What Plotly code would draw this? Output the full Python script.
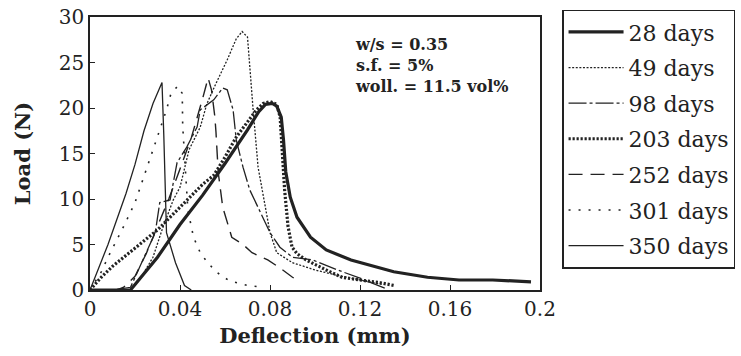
import plotly.graph_objects as go

# Load-deflection curves of wollastonite micro-fibre reinforced specimens at several ages
days_labels = ["28 days", "49 days", "98 days", "203 days", "252 days", "301 days", "350 days"]

defl_28 = [0, 0.018, 0.030, 0.040, 0.050, 0.060, 0.070, 0.075, 0.078, 0.081, 0.083, 0.085, 0.086,
           0.087, 0.089, 0.092, 0.098, 0.105, 0.116, 0.129, 0.135, 0.150, 0.164, 0.179, 0.196]
load_28 = [0, 0, 3.6, 7.2, 10.4, 13.9, 17.6, 19.6, 20.4, 20.5, 20.2, 19.0, 16.5,
           13.0, 10.2, 8.0, 5.8, 4.4, 3.3, 2.4, 2.0, 1.4, 1.1, 1.1, 0.9]

defl_49 = [0, 0.018, 0.022, 0.028, 0.032, 0.037, 0.040, 0.044, 0.049, 0.052, 0.056, 0.061, 0.065,
           0.0676, 0.070, 0.071, 0.0725, 0.0747, 0.078, 0.080, 0.083, 0.090, 0.100, 0.110, 0.120, 0.130]
load_49 = [0, 0, 1.1, 3.6, 6.6, 9.9, 11.3, 15.4, 17.9, 20.5, 22.7, 25.3, 27.6,
           28.4, 27.8, 24.5, 19.8, 13.5, 9.1, 6.3, 4.1, 3.0, 2.2, 1.6, 1.1, 0.6]

defl_98 = [0, 0.010, 0.018, 0.021, 0.025, 0.029, 0.031, 0.0356, 0.0387, 0.043, 0.0476, 0.049, 0.055,
           0.059, 0.061, 0.0636, 0.065, 0.068, 0.071, 0.0756, 0.080, 0.0844, 0.090, 0.099, 0.110,
           0.120, 0.128, 0.131]
load_98 = [0, 0, 0.3, 1.9, 4.1, 6.3, 9.6, 9.9, 14.0, 15.7, 17.9, 19.8, 20.9,
           22.2, 22.0, 19.8, 16.5, 13.5, 11.0, 8.5, 6.3, 4.7, 3.6, 3.3, 2.2,
           1.3, 0.5, 0.2]

defl_203 = [0, 0.005, 0.010, 0.020, 0.030, 0.040, 0.050, 0.055, 0.060, 0.065, 0.070, 0.074, 0.077,
            0.080, 0.083, 0.0845, 0.0855, 0.0865, 0.088, 0.0898, 0.092, 0.096, 0.105, 0.112, 0.120,
            0.129, 0.135]
load_203 = [0, 1.4, 2.6, 4.6, 6.6, 9.1, 11.6, 12.6, 14.6, 16.8, 18.5, 19.8, 20.5,
            20.7, 20.4, 19.0, 15.0, 11.0, 7.0, 4.7, 4.0, 3.3, 2.2, 1.4, 1.1,
            0.8, 0.5]

defl_252 = [0, 0.012, 0.015, 0.020, 0.025, 0.030, 0.035, 0.040, 0.045, 0.050, 0.0525, 0.054,
            0.0555, 0.056, 0.057, 0.059, 0.063, 0.068, 0.072, 0.079, 0.084, 0.090, 0.092]
load_252 = [0, 0, 0.3, 1.5, 4.0, 6.9, 10.0, 13.3, 16.7, 21.0, 23.3, 22.0,
            19.0, 17.3, 12.9, 9.1, 5.8, 5.0, 4.1, 3.3, 2.5, 1.4, 1.1]

defl_301 = [0, 0.005, 0.009, 0.015, 0.020, 0.024, 0.028, 0.034, 0.036, 0.039, 0.041, 0.0412,
            0.042, 0.0435, 0.046, 0.049, 0.052, 0.056, 0.062, 0.070, 0.077]
load_301 = [0, 2.0, 4.1, 7.0, 9.6, 12.4, 15.4, 19.8, 21.6, 22.4, 21.6, 18.0,
            14.6, 8.8, 5.8, 4.1, 3.1, 2.0, 1.0, 0.5, 0.3]

defl_350 = [0, 0.004, 0.008, 0.012, 0.016, 0.020, 0.024, 0.028, 0.032, 0.0328, 0.0335, 0.034,
            0.038, 0.042, 0.045]
load_350 = [0, 2.5, 5.0, 7.8, 10.6, 13.8, 17.5, 20.5, 22.8, 17.0, 10.0, 6.3,
            3.0, 0.5, 0.0]

x_tick_vals = [0, 0.04, 0.08, 0.12, 0.16, 0.2]
x_tick_text = ["0", "0.04", "0.08", "0.12", "0.16", "0.2"]
y_tick_vals = [0, 5, 10, 15, 20, 25, 30]

mix_notes = ["w/s = 0.35", "s.f. = 5%", "woll. = 11.5 vol%"]

series = [
    (defl_28, load_28, dict(width=3.2, dash="solid")),
    (defl_49, load_49, dict(width=1.3, dash="2px,1.6px")),
    (defl_98, load_98, dict(width=1.3, dash="18px,3px,3px,3px")),
    (defl_203, load_203, dict(width=3.2, dash="2.2px,1.8px")),
    (defl_252, load_252, dict(width=1.4, dash="14px,8px")),
    (defl_301, load_301, dict(width=1.6, dash="2px,8px")),
    (defl_350, load_350, dict(width=1.3, dash="solid")),
]

ink = "#222222"
serif = "DejaVu Serif"

fig = go.Figure()
for label, (xs, ys, style) in zip(days_labels, series):
    fig.add_trace(go.Scatter(
        x=xs, y=ys, mode="lines", name=label, legendgroup=label,
        line=dict(color=ink, width=style["width"], dash=style["dash"]),
    ))

# mix design notes in the upper right of the plot
fig.add_annotation(
    x=0.117, y=28.2, xref="x", yref="y", xanchor="left", yanchor="top", align="left",
    showarrow=False, text="<br>".join(mix_notes),
    font=dict(family=serif, size=16, color=ink, weight="bold"),
)

axis_common = dict(
    showline=True, linecolor=ink, linewidth=1.5, mirror=True,
    ticks="inside", ticklen=5, tickwidth=1.3, tickcolor=ink,
    showgrid=False, zeroline=False,
    tickfont=dict(family=serif, size=20, color=ink),
)

fig.update_xaxes(
    range=[0, 0.2], tickvals=x_tick_vals, ticktext=x_tick_text,
    title=dict(text="Deflection (mm)", font=dict(family=serif, size=21, color=ink, weight="bold"),
               standoff=9),
    **axis_common,
)
fig.update_yaxes(
    range=[0, 30], tickvals=y_tick_vals,
    title=dict(text="Load (N)", font=dict(family=serif, size=21, color=ink, weight="bold"),
               standoff=22),
    **axis_common,
)

fig.update_layout(
    width=741, height=356,
    margin=dict(l=90, r=201, t=17, b=66, autoexpand=False),
    paper_bgcolor="white", plot_bgcolor="white",
    showlegend=True,
    legend=dict(
        x=1.049, y=1.027, xanchor="left", yanchor="top",
        bordercolor=ink, borderwidth=1.5, bgcolor="white",
        font=dict(family=serif, size=22, color=ink),
        itemwidth=55, tracegroupgap=4, traceorder="grouped",
        maxheight=340,
    ),
)

fig.write_html("out.html")
